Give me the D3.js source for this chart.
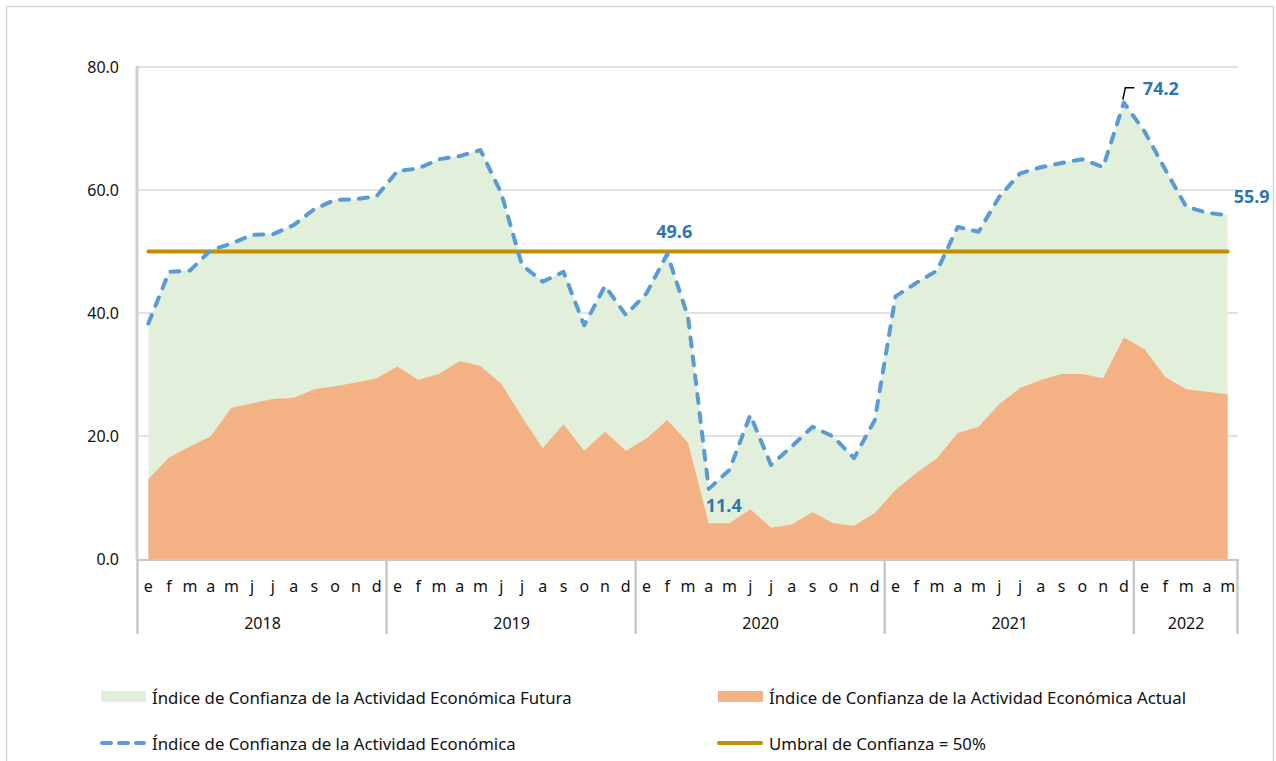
<!DOCTYPE html>
<html>
<head>
<meta charset="utf-8">
<script src="https://cdn.jsdelivr.net/npm/d3@7"></script>
<style>
  body { margin: 0; background: #fff; }
  svg { font-family: 'Noto Sans', 'Open Sans', sans-serif; }
</style>
</head>
<body>
<svg width="1276" height="761"></svg>
<script>
const years = ['2018', '2019', '2020', '2021', '2022']
const monthsPerYear = [12, 12, 12, 12, 5]
const monthLetters = ['e', 'f', 'm', 'a', 'm', 'j', 'j', 'a', 's', 'o', 'n', 'd']

// Índice de Confianza de la Actividad Económica (dashed line, top of green area)
const icae = [
  38.3, 46.7, 46.9, 50.2, 51.3, 52.7, 52.8, 54.3, 56.9, 58.4, 58.5, 59.0,
  63.1, 63.5, 65.0, 65.5, 66.5, 59.5, 47.8, 45.1, 46.7, 38.0, 44.4, 39.7,
  43.2, 49.6, 39.4, 11.4, 14.5, 23.4, 15.3, 18.3, 21.5, 19.9, 16.4, 22.6,
  42.7, 44.9, 46.9, 54.0, 53.2, 58.9, 62.7, 63.7, 64.4, 65.0, 63.7, 74.2,
  69.5, 63.3, 57.3, 56.3, 55.9
]
// Índice de Confianza de la Actividad Económica Actual
const actual = [
  13.0, 16.5, 18.3, 19.9, 24.6, 25.3, 26.0, 26.2, 27.6, 28.1, 28.7, 29.4,
  31.3, 29.1, 30.1, 32.2, 31.4, 28.5, 23.1, 18.0, 21.9, 17.6, 20.7, 17.6,
  19.6, 22.6, 18.9, 5.8, 5.8, 8.1, 5.1, 5.6, 7.6, 5.8, 5.4, 7.5,
  11.2, 14.0, 16.4, 20.5, 21.5, 25.2, 27.8, 29.1, 30.1, 30.1, 29.4, 36.0,
  34.1, 29.6, 27.6, 27.2, 26.8
]
const umbral = 50
const yTicks = [0, 20, 40, 60, 80]
const labelled = [25, 27, 47, 52] // months with value labels

// month labels built from years
const months = []
years.forEach((yr, k) => {
  for (let m = 0; m < monthsPerYear[k]; m++) months.push(monthLetters[m])
})
const idx = d3.range(months.length)

const svg = d3.select('svg')

// outer frame
svg.append('rect')
  .attr('x', 6.5).attr('y', 6.5)
  .attr('width', 1267).attr('height', 780)
  .attr('fill', 'none').attr('stroke', '#ddd3dc').attr('stroke-width', 1.5)

const pl = 138, pr = 1238, pt = 67, pb = 559

const x = d3.scaleBand().domain(idx).range([pl, pr])
const cx = (i) => x(i) + x.bandwidth() / 2
const y = d3.scaleLinear().domain([0, 80]).range([pb, pt])

// gridlines
svg.append('g')
  .selectAll('line')
  .data(yTicks.filter((t) => t > 0))
  .join('line')
  .attr('x1', pl).attr('x2', pr)
  .attr('y1', (d) => y(d)).attr('y2', (d) => y(d))
  .attr('stroke', '#d9d9d9').attr('stroke-width', 1.5)

// y axis
const yAxis = svg.append('g')
  .attr('transform', `translate(${pl},0)`)
  .call(d3.axisLeft(y).tickValues(yTicks).tickFormat(d3.format('.1f')).tickSize(0).tickPadding(19))
yAxis.select('.domain').remove()
yAxis.selectAll('text').attr('font-size', 16).attr('fill', '#111').attr('font-family', "'Noto Sans', sans-serif")

// areas
const areaFut = d3.area().x((d, i) => cx(i)).y0(y(0)).y1((d) => y(d))
svg.append('path').datum(icae).attr('d', areaFut).attr('fill', '#e2efda')
svg.append('path').datum(actual).attr('d', areaFut).attr('fill', '#f4b183')

// axis lines
svg.append('line')
  .attr('x1', pl - 1).attr('x2', pl - 1).attr('y1', pt - 1).attr('y2', pb)
  .attr('stroke', '#d0d0d0').attr('stroke-width', 3)
svg.append('line')
  .attr('x1', pl - 2).attr('x2', pr + 1).attr('y1', pb + 1).attr('y2', pb + 1)
  .attr('stroke', '#c8c8c8').attr('stroke-width', 2)

// threshold line
svg.append('line')
  .attr('x1', cx(0)).attr('x2', cx(idx.length - 1))
  .attr('y1', y(umbral)).attr('y2', y(umbral))
  .attr('stroke', '#bf9000').attr('stroke-width', 4).attr('stroke-linecap', 'round')

// dashed index line
const line = d3.line().x((d, i) => cx(i)).y((d) => y(d))
svg.append('path').datum(icae).attr('d', line)
  .attr('fill', 'none').attr('stroke', '#5b9bd5').attr('stroke-width', 4)
  .attr('stroke-dasharray', '9,10').attr('stroke-linecap', 'round').attr('stroke-linejoin', 'round')

// x axis: months and years
const xAxis = svg.append('g')
xAxis.selectAll('text.m')
  .data(idx)
  .join('text')
  .attr('class', 'm')
  .attr('x', (i) => cx(i)).attr('y', 586)
  .attr('text-anchor', 'middle').attr('dominant-baseline', 'central')
  .attr('font-size', 16).attr('fill', '#111')
  .text((i) => months[i])

let start = 0
const yearSpans = years.map((yr, k) => {
  const s = { yr, from: start, to: start + monthsPerYear[k] - 1 }
  start += monthsPerYear[k]
  return s
})
const sepX = yearSpans.map((s) => x(s.from)).concat([pr])
xAxis.selectAll('line.sep')
  .data(sepX)
  .join('line')
  .attr('class', 'sep')
  .attr('x1', (d) => d - 0.5).attr('x2', (d) => d - 0.5)
  .attr('y1', pb).attr('y2', 634)
  .attr('stroke', '#c8c8c8').attr('stroke-width', 2.5)
xAxis.selectAll('text.yr')
  .data(yearSpans)
  .join('text')
  .attr('class', 'yr')
  .attr('x', (s) => (x(s.from) + x(s.to) + x.bandwidth()) / 2).attr('y', 623)
  .attr('text-anchor', 'middle').attr('dominant-baseline', 'central')
  .attr('font-size', 16).attr('fill', '#111')
  .text((s) => s.yr)

// value labels
const offsets = { 25: [7, -23], 27: [15, 16], 47: [37, -15], 52: [24, -19] }
const lab = svg.append('g')
lab.selectAll('text')
  .data(labelled)
  .join('text')
  .attr('x', (i) => cx(i) + offsets[i][0])
  .attr('y', (i) => y(icae[i]) + offsets[i][1])
  .attr('text-anchor', 'middle').attr('dominant-baseline', 'central')
  .attr('font-size', 18).attr('font-weight', 'bold').attr('fill', '#2e75b6')
  .text((i) => d3.format('.1f')(icae[i]))
// leader line for peak
const pk = 47
svg.append('path')
  .attr('d', `M${cx(pk) - 1},${y(icae[pk]) - 3} L${cx(pk) + 1.5},${y(icae[pk]) - 15} L${cx(pk) + 10.5},${y(icae[pk]) - 15}`)
  .attr('fill', 'none').attr('stroke', '#000').attr('stroke-width', 1.5)

// legend
const legend = svg.append('g').attr('font-size', 16.8).attr('fill', '#111')
const lg = [
  { type: 'rect', color: '#e2efda', x: 101, y: 697, text: 'Índice de Confianza de la Actividad Económica Futura' },
  { type: 'rect', color: '#f4b183', x: 718, y: 697, text: 'Índice de Confianza de la Actividad Económica Actual' },
  { type: 'dash', color: '#5b9bd5', x: 101, y: 743, text: 'Índice de Confianza de la Actividad Económica' },
  { type: 'line', color: '#bf9000', x: 718, y: 743, text: 'Umbral de Confianza = 50%' }
]
lg.forEach((d) => {
  if (d.type === 'rect') {
    legend.append('rect').attr('x', d.x).attr('y', d.y - 6).attr('width', 45).attr('height', 11).attr('fill', d.color)
  } else {
    legend.append('line')
      .attr('x1', d.x + 1).attr('x2', d.x + 43).attr('y1', d.y).attr('y2', d.y)
      .attr('stroke', d.color).attr('stroke-width', 4).attr('stroke-linecap', 'round')
      .attr('stroke-dasharray', d.type === 'dash' ? '9,8' : null)
  }
  legend.append('text')
    .attr('x', d.x + 51).attr('y', d.y)
    .attr('dominant-baseline', 'central')
    .text(d.text)
})
</script>
</body>
</html>
